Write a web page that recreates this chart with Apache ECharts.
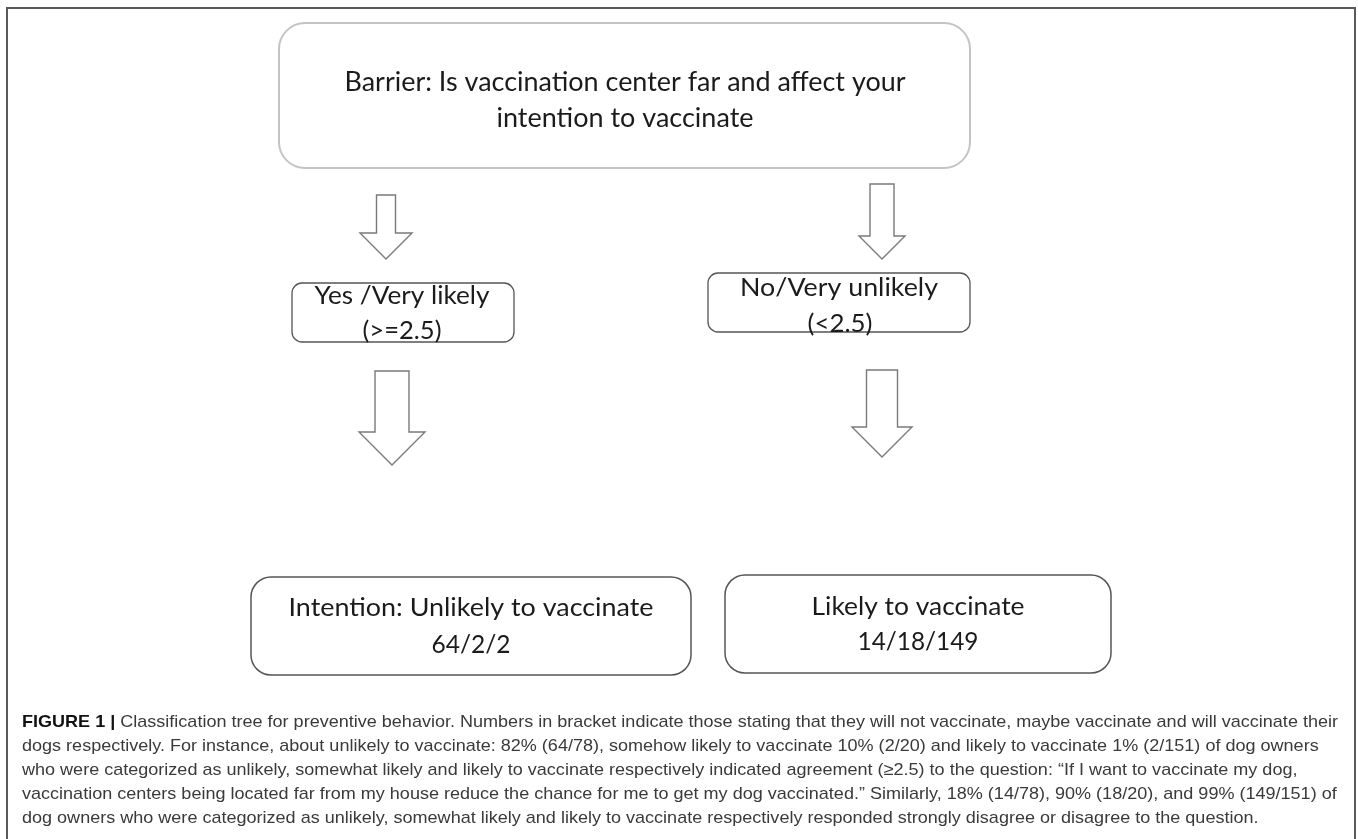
<!DOCTYPE html>
<html>
<head>
<meta charset="utf-8">
<script src="https://cdn.jsdelivr.net/npm/echarts@6/dist/echarts.min.js"></script>
<style>
  html, body { margin: 0; padding: 0; background: #fff; }
  #main { width: 1358px; height: 839px; }
</style>
</head>
<body>
<div id="main"></div>
<script>
// 节点文字
const rootText = ['Barrier: Is vaccination center far and affect your', 'intention to vaccinate']
const branchText = ['Yes /Very likely', 'No/Very unlikely']
const branchCut = ['(>=2.5)', '(<2.5)']
const outcomeText = ['Intention: Unlikely to vaccinate', 'Likely to vaccinate']
const countsUnlikely = [64, 2, 2]
const countsLikely = [14, 18, 149]
// 图注
const captionBold = 'FIGURE 1 |'
const captionLines = [
  ' Classification tree for preventive behavior. Numbers in bracket indicate those stating that they will not vaccinate, maybe vaccinate and will vaccinate their',
  'dogs respectively. For instance, about unlikely to vaccinate: 82% (64/78), somehow likely to vaccinate 10% (2/20) and likely to vaccinate 1% (2/151) of dog owners',
  'who were categorized as unlikely, somewhat likely and likely to vaccinate respectively indicated agreement (\u22652.5) to the question: \u201cIf I want to vaccinate my dog,',
  'vaccination centers being located far from my house reduce the chance for me to get my dog vaccinated.\u201d Similarly, 18% (14/78), 90% (18/20), and 99% (149/151) of',
  'dog owners who were categorized as unlikely, somewhat likely and likely to vaccinate respectively responded strongly disagree or disagree to the question.'
]

const boxFont = 'Lato, "Open Sans", sans-serif'
const capFont = '"Liberation Sans Narrow", "Liberation Sans", Arial, sans-serif'

let ctx = document.createElement('canvas').getContext('2d')
function measure(str, font) {
  ctx.font = font
  return ctx.measureText(str).width
}

// 居中文字，按目标宽度压缩
function label(str, cx, cy, size, w) {
  let font = size + 'px ' + boxFont
  return {
    type: 'text',
    x: cx, y: cy,
    scaleX: w / measure(str, font),
    style: {
      text: str, font: font, fill: '#1b1b1b',
      align: 'center', verticalAlign: 'middle',
      textAlign: 'center', textVerticalAlign: 'middle'
    }
  }
}

function box(x, y, w, h, r, stroke, lw) {
  return {
    type: 'rect',
    shape: { x: x, y: y, width: w, height: h, r: r },
    style: { fill: '#fff', stroke: stroke, lineWidth: lw }
  }
}

// 空心箭头
function arrow(cx, sw, y0, y1, hw, y2) {
  return {
    type: 'polygon',
    shape: {
      points: [[cx - sw, y0], [cx + sw, y0], [cx + sw, y1], [cx + hw, y1], [cx, y2], [cx - hw, y1], [cx - sw, y1]]
    },
    style: { fill: '#fff', stroke: '#7a7a7a', lineWidth: 1.4 }
  }
}

// 图注
function caption() {
  let size = 17
  let regular = size + 'px ' + capFont
  let bold = 'bold ' + size + 'px ' + capFont
  let wb = measure(captionBold, bold)
  let s = 1316 / (wb + measure(captionLines[0], regular))
  let ys = [722, 746, 770, 794, 818]
  let children = [{
    type: 'text', x: 0, y: ys[0],
    style: { text: captionBold, font: bold, fill: '#111', verticalAlign: 'middle', textVerticalAlign: 'middle' }
  }]
  captionLines.forEach((ln, i) => {
    children.push({
      type: 'text', x: i === 0 ? wb : 0, y: ys[i],
      style: { text: ln, font: regular, fill: '#3a3a3a', verticalAlign: 'middle', textVerticalAlign: 'middle' }
    })
  })
  return { type: 'group', x: 22, y: 0, scaleX: s, children: children }
}

let elements = [
  // 外框
  { type: 'rect', shape: { x: 7, y: 8, width: 1348, height: 845 }, style: { fill: 'none', stroke: '#5a5a5a', lineWidth: 2 } },
  box(279, 23, 691, 145, 26, '#c4c4c4', 2),
  label(rootText[0], 625, 83, 26, 561),
  label(rootText[1], 625, 119, 26, 257),

  arrow(386, 9.5, 195, 233, 26, 259),
  arrow(882, 12, 184, 236, 23, 259),

  box(292, 283, 222, 59, 10, '#555', 1.3),
  label(branchText[0], 402, 296, 24.5, 175),
  label(branchCut[0], 402, 331, 24.5, 79),

  box(708, 273, 262, 59, 10, '#555', 1.3),
  label(branchText[1], 839, 288, 24.5, 198),
  label(branchCut[1], 840, 324, 24.5, 65),

  arrow(392, 17, 371, 432, 33, 465),
  arrow(882, 15.5, 370, 427, 30, 457),

  box(251, 577, 440, 98, 20, '#555', 1.5),
  label(outcomeText[0], 471, 608, 24.5, 365),
  label(countsUnlikely.join('/'), 471, 645, 24.5, 79),

  box(725, 575, 386, 98, 20, '#555', 1.5),
  label(outcomeText[1], 918, 607, 24.5, 213),
  label(countsLikely.join('/'), 918, 642, 24.5, 121),

  caption()
]

let myChart = echarts.init(document.getElementById('main'))
myChart.setOption({
  animation: false,
  backgroundColor: '#fff',
  graphic: { elements: elements }
})
</script>
</body>
</html>
